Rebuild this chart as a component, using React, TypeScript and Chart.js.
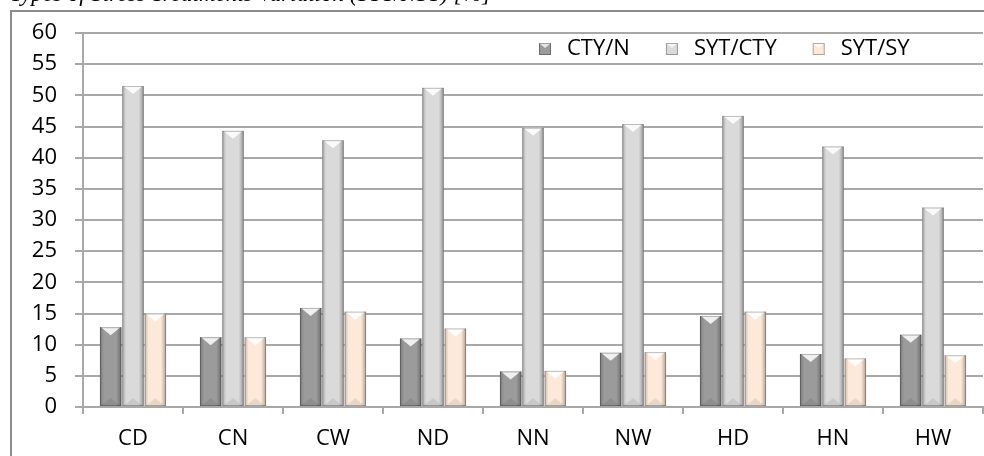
import React, { useEffect, useRef } from "react";
import { Chart, registerables } from "chart.js";

Chart.register(...registerables);

const categories = ["CD", "CN", "CW", "ND", "NN", "NW", "HD", "HN", "HW"];
const seriesNames = ["CTY/N", "SYT/CTY", "SYT/SY"];
const ctyN = [12.8, 11.2, 15.9, 11.0, 5.7, 8.7, 14.6, 8.5, 11.6];
const sytCty = [51.5, 44.3, 42.8, 51.2, 44.8, 45.4, 46.7, 41.8, 32.0];
const sytSy = [15.0, 11.2, 15.3, 12.6, 5.8, 8.8, 15.3, 7.8, 8.3];
const yTicks = [0, 5, 10, 15, 20, 25, 30, 35, 40, 45, 50, 55, 60];
const titleText = "Types of Stress Treatments Variation (SYT/NSY) [%]";

const fills = ["#9b9b9b", "#dadada", "#fce9da"];
const FONT = "'Open Sans', sans-serif";

const framePlugin = {
  id: "frame",
  beforeDraw(chart: any) {
    const ctx = chart.ctx;
    ctx.save();
    ctx.strokeStyle = "#8c8c8c";
    ctx.lineWidth = 2;
    ctx.strokeRect(11, 11, chart.width + 20, chart.height + 20);
    ctx.restore();
  },
};

const bevelPlugin = {
  id: "bevel",
  afterDatasetsDraw(chart: any) {
    const ctx = chart.ctx;
    ctx.save();
    chart.data.datasets.forEach((_: any, di: number) => {
      const meta = chart.getDatasetMeta(di);
      meta.data.forEach((bar: any) => {
        const l = bar.x - bar.width / 2;
        const r = bar.x + bar.width / 2;
        const t = bar.y;
        const b = bar.base;
        const w = r - l;
        let g = ctx.createLinearGradient(l, 0, l + 4, 0);
        g.addColorStop(0, "rgba(0,0,0,0.22)");
        g.addColorStop(1, "rgba(0,0,0,0)");
        ctx.fillStyle = g;
        ctx.fillRect(l, t, 4, b - t);
        g = ctx.createLinearGradient(r - 5, 0, r, 0);
        g.addColorStop(0, "rgba(0,0,0,0)");
        g.addColorStop(1, "rgba(0,0,0,0.3)");
        ctx.fillStyle = g;
        ctx.fillRect(r - 5, t, 5, b - t);
        ctx.beginPath();
        ctx.moveTo(l + 1, t);
        ctx.lineTo(r - 1, t);
        ctx.lineTo(bar.x, t + Math.min(8, (b - t) / 2));
        ctx.closePath();
        ctx.fillStyle = "rgba(255,255,255,0.85)";
        ctx.fill();
        ctx.beginPath();
        ctx.moveTo(l + 1, b);
        ctx.lineTo(r - 1, b);
        ctx.lineTo(bar.x, b - Math.min(8, (b - t) / 2));
        ctx.closePath();
        ctx.fillStyle = "rgba(0,0,0,0.08)";
        ctx.fill();
        ctx.strokeStyle = "rgba(0,0,0,0.25)";
        ctx.lineWidth = 1;
        ctx.strokeRect(l + 0.5, t + 0.5, w - 1, b - t - 1);
      });
    });
    ctx.restore();
  },
};

const legendPlugin = {
  id: "customLegend",
  afterDraw(chart: any) {
    const ctx = chart.ctx;
    ctx.save();
    ctx.font = `22px ${FONT}`;
    ctx.textBaseline = "middle";
    let x = 539;
    const yMid = 49;
    seriesNames.forEach((name, i) => {
      ctx.fillStyle = fills[i];
      ctx.fillRect(x, yMid - 6, 12, 12);
      ctx.beginPath();
      ctx.moveTo(x, yMid - 6);
      ctx.lineTo(x + 12, yMid - 6);
      ctx.lineTo(x + 6, yMid - 1);
      ctx.closePath();
      ctx.fillStyle = "rgba(255,255,255,0.75)";
      ctx.fill();
      ctx.strokeStyle = "rgba(0,0,0,0.3)";
      ctx.strokeRect(x + 0.5, yMid - 5.5, 11, 11);
      ctx.fillStyle = "#000";
      ctx.fillText(name, x + 28, yMid);
      x += 28 + ctx.measureText(name).width + 36;
    });
    ctx.restore();
  },
};

export default function App() {
  const ref = useRef<HTMLCanvasElement | null>(null);
  useEffect(() => {
    if (!ref.current) return;
    const chart = new Chart(ref.current, {
      type: "bar",
      data: {
        labels: categories,
        datasets: [
          { label: seriesNames[0], data: ctyN, backgroundColor: fills[0] },
          { label: seriesNames[1], data: sytCty, backgroundColor: fills[1] },
          { label: seriesNames[2], data: sytSy, backgroundColor: fills[2] },
        ],
      },
      options: {
        responsive: false,
        animation: false,
        layout: { padding: { top: 33, right: 1, left: 0, bottom: 0 } },
        datasets: { bar: { categoryPercentage: 0.67, barPercentage: 0.96 } },
        plugins: { legend: { display: false }, tooltip: { enabled: false } },
        scales: {
          x: {
            grid: {
              offset: true,
              drawOnChartArea: false,
              drawTicks: true,
              tickLength: 7,
              color: "#a8a8a8",
              lineWidth: 2,
            },
            border: { color: "#a8a8a8", width: 2 },
            ticks: { font: { family: FONT, size: 22 }, color: "#000", padding: 12 },
            afterFit: (s: any) => {
              s.height = 49;
            },
          },
          y: {
            min: 0,
            max: 60,
            afterBuildTicks: (s: any) => {
              s.ticks = yTicks.map((v) => ({ value: v }));
            },
            grid: { color: "#a8a8a8", lineWidth: 2, tickLength: 8 },
            border: { color: "#a8a8a8", width: 2 },
            ticks: { font: { family: FONT, size: 22 }, color: "#000", padding: 18 },
            afterFit: (s: any) => {
              s.width = 83;
            },
          },
        },
      },
      plugins: [framePlugin, bevelPlugin, legendPlugin],
    } as any);
    return () => chart.destroy();
  }, []);
  return (
    <div
      style={{
        position: "absolute",
        left: 0,
        top: 0,
        width: 984,
        height: 456,
        overflow: "hidden",
        background: "#fff",
      }}
    >
      <canvas
        ref={ref}
        width={984}
        height={456}
        style={{ display: "block", position: "absolute", left: 0, top: 0 }}
      />
      <div
        style={{
          position: "absolute",
          left: 10,
          top: -18,
          font: "italic 23px 'Liberation Serif', serif",
          lineHeight: "23px",
          whiteSpace: "nowrap",
          color: "#000",
        }}
      >
        {titleText}
      </div>
    </div>
  );
}
